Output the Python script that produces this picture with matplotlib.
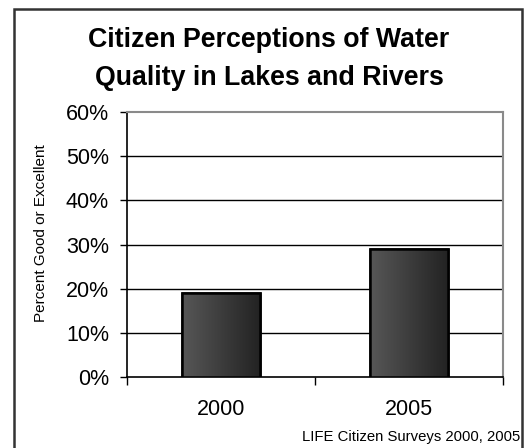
import matplotlib
matplotlib.use("Agg")
import matplotlib.pyplot as plt
import numpy as np
from matplotlib.patches import Rectangle
from matplotlib.colors import LinearSegmentedColormap

years = ["2000", "2005"]
values = [19, 29]
yticks = [0, 10, 20, 30, 40, 50, 60]
ytick_labels = ["0%", "10%", "20%", "30%", "40%", "50%", "60%"]
title = "Citizen Perceptions of Water\nQuality in Lakes and Rivers"
ylabel = "Percent Good or Excellent"
source = "LIFE Citizen Surveys 2000, 2005"

plt.rcParams['font.family'] = ['Liberation Sans', 'DejaVu Sans']

W, H = 524, 448
fig = plt.figure(figsize=(W / 100, H / 100), dpi=100)
fig.patch.set_facecolor('white')

# outer frame
fig.patches.append(Rectangle((13.5 / W, -0.1), (521.5 - 13.5) / W, 1.1 - 9.5 / H,
                             transform=fig.transFigure, fill=False,
                             edgecolor='#333333', linewidth=1.8, zorder=0))

l, r, t, b = 127, 503, 112, 377
ax = fig.add_axes([l / W, 1 - b / H, (r - l) / W, (b - t) / H])

x = np.arange(len(years))
bars = ax.bar(x, values, width=0.41, color='#3a3a3a', edgecolor='black',
              linewidth=1.8, zorder=3)

cmap = LinearSegmentedColormap.from_list('g', ['#575757', '#232323'])
grad = np.linspace(0, 1, 256).reshape(1, -1)
for bar in bars:
    x0, y0 = bar.get_x(), bar.get_y()
    w, h = bar.get_width(), bar.get_height()
    im = ax.imshow(grad, extent=[x0, x0 + w, y0, y0 + h], cmap=cmap,
                   aspect='auto', zorder=3.5)
    im.set_clip_path(bar)
    edge = Rectangle((x0, y0), w, h, fill=False, edgecolor='black',
                     linewidth=1.8, zorder=4)
    ax.add_patch(edge)

ax.set_xlim(-0.5, len(years) - 0.5)
ax.set_ylim(0, 60)
ax.set_yticks(yticks)
ax.set_yticklabels(ytick_labels, fontsize=15.5)
ax.set_xticks(x)
ax.set_xticklabels(years, fontsize=15.5)
ax.set_xticks(np.arange(len(years) + 1) - 0.5, minor=True)
ax.tick_params(axis='x', which='major', length=0, pad=16)
ax.tick_params(axis='x', which='minor', length=6, width=1, color='black')
ax.tick_params(axis='y', which='major', length=5, width=1, direction='out', pad=8)

for yv in yticks[1:-1]:
    ax.axhline(yv, color='black', linewidth=1, zorder=1)

ax.spines['left'].set_color('black')
ax.spines['left'].set_linewidth(1.2)
ax.spines['bottom'].set_color('black')
ax.spines['bottom'].set_linewidth(1.2)
ax.spines['top'].set_color('#8a8a8a')
ax.spines['top'].set_linewidth(1.5)
ax.spines['right'].set_color('#8a8a8a')
ax.spines['right'].set_linewidth(1.5)

fig.text(41 / W, 1 - 233 / H, ylabel, rotation=90, fontsize=11,
         ha='center', va='center')
fig.text(0.5 * (88 + 450) / W, 1 - 59 / H, title, fontsize=19.3,
         fontweight='bold', ha='center', va='center', linespacing=1.62)
fig.text(520 / W, 1 - 437 / H, source, fontsize=10.7, ha='right', va='center')

fig.savefig("out.png", dpi=100)
